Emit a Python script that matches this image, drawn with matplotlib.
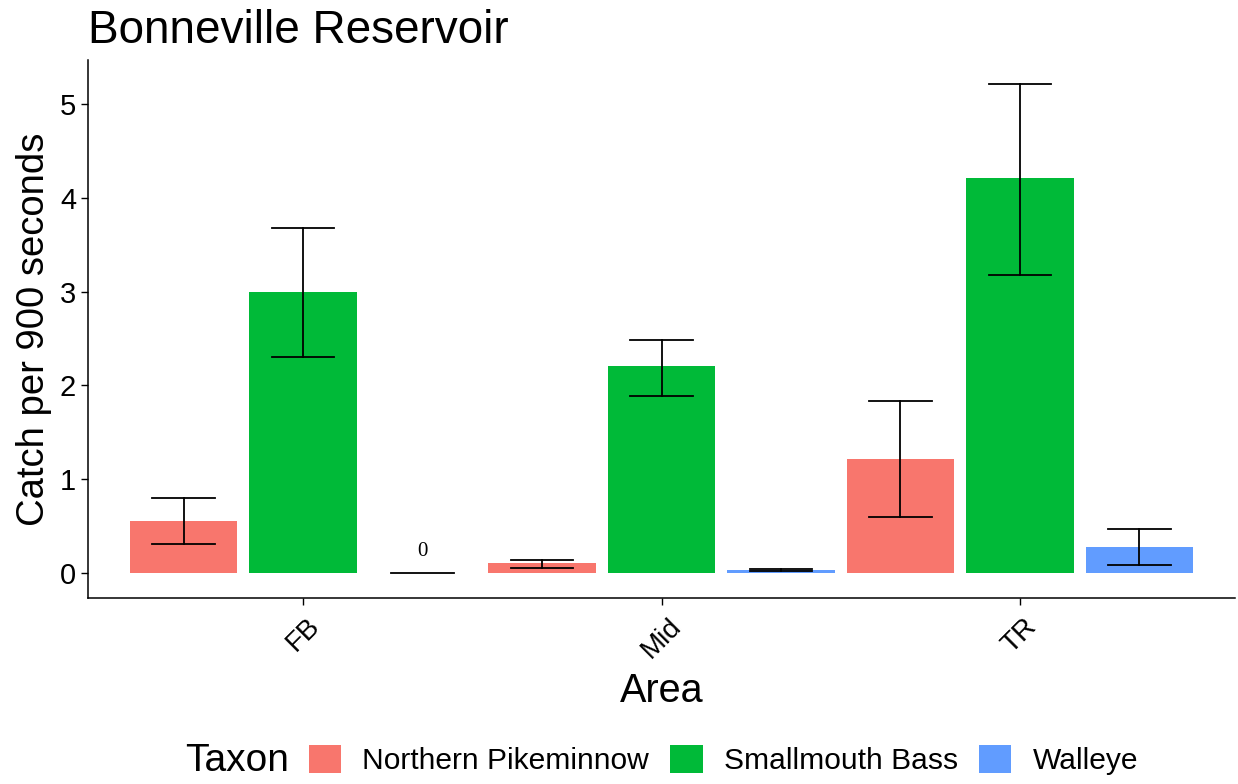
import matplotlib
matplotlib.use("Agg")
import matplotlib.pyplot as plt
from matplotlib.patches import Patch
import numpy as np

plt.rcParams['font.family'] = ['Liberation Sans', 'DejaVu Sans']

areas = ["FB", "Mid", "TR"]
taxa = ["Northern Pikeminnow", "Smallmouth Bass", "Walleye"]
colors = ["#F8766D", "#00BA38", "#619CFF"]

means = {
    "Northern Pikeminnow": [0.55, 0.10, 1.21],
    "Smallmouth Bass": [3.00, 2.20, 4.21],
    "Walleye": [0.00, 0.03, 0.27],
}
lower = {
    "Northern Pikeminnow": [0.31, 0.05, 0.59],
    "Smallmouth Bass": [2.30, 1.88, 3.18],
    "Walleye": [0.00, 0.02, 0.08],
}
upper = {
    "Northern Pikeminnow": [0.80, 0.14, 1.83],
    "Smallmouth Bass": [3.68, 2.48, 5.21],
    "Walleye": [0.00, 0.04, 0.47],
}
zero_label = "0"

fig = plt.figure(figsize=(12.38, 7.84), dpi=100)
ax = fig.add_axes([88/1238, 1 - 598/784, (1235 - 88)/1238, (598 - 60)/784])

x = np.arange(len(areas))
dodge = 1/3
width = 0.3
cap = 0.175
for i, t in enumerate(taxa):
    xs = x + (i - 1) * dodge
    ax.bar(xs, means[t], width=width, color=colors[i], zorder=2)
    for xi, m, lo, hi in zip(xs, means[t], lower[t], upper[t]):
        if m == 0:
            ax.plot([xi - cap / 2, xi + cap / 2], [0, 0], color='black', lw=1.3, zorder=3)
            ax.text(xi, 0.13, zero_label, ha='center', va='bottom', fontsize=15,
                    family='Liberation Serif')
            continue
        ax.plot([xi, xi], [lo, hi], color='black', lw=1.3, zorder=3)
        ax.plot([xi - cap / 2, xi + cap / 2], [lo, lo], color='black', lw=1.3, zorder=3)
        ax.plot([xi - cap / 2, xi + cap / 2], [hi, hi], color='black', lw=1.3, zorder=3)

ax.set_xlim(-0.6, 2.6)
ax.set_ylim(-0.27, 5.47)
ax.set_xticks(x)
ax.set_xticklabels(areas, rotation=45, fontsize=20, ha='center')
ax.set_yticks([0, 1, 2, 3, 4, 5])
ax.tick_params(axis='y', labelsize=21, length=5, width=1)
ax.tick_params(axis='x', length=5, width=1, pad=6)
for s in ['top', 'right']:
    ax.spines[s].set_visible(False)
for s in ['left', 'bottom']:
    ax.spines[s].set_linewidth(1.1)
ax.set_xlabel("Area", fontsize=28.5, labelpad=6)
ax.set_ylabel("Catch per 900 seconds", fontsize=27.5, labelpad=6)
ax.set_title("Bonneville Reservoir", fontsize=33, loc='left', x=0.0, pad=12)

handles = [Patch(facecolor=c, edgecolor='none') for c in colors]
fig.text(185/1238, 1 - 761/784, "Taxon", fontsize=28, ha='left', va='center')
fig.legend(handles, taxa, loc='center left', bbox_to_anchor=(309/1238, 1 - 760/784), ncol=3,
           frameon=False, fontsize=21.6, handlelength=1.07, handleheight=1.07,
           columnspacing=0.72, handletextpad=0.7, borderpad=0, borderaxespad=0)

fig.savefig("out.png", dpi=100)
